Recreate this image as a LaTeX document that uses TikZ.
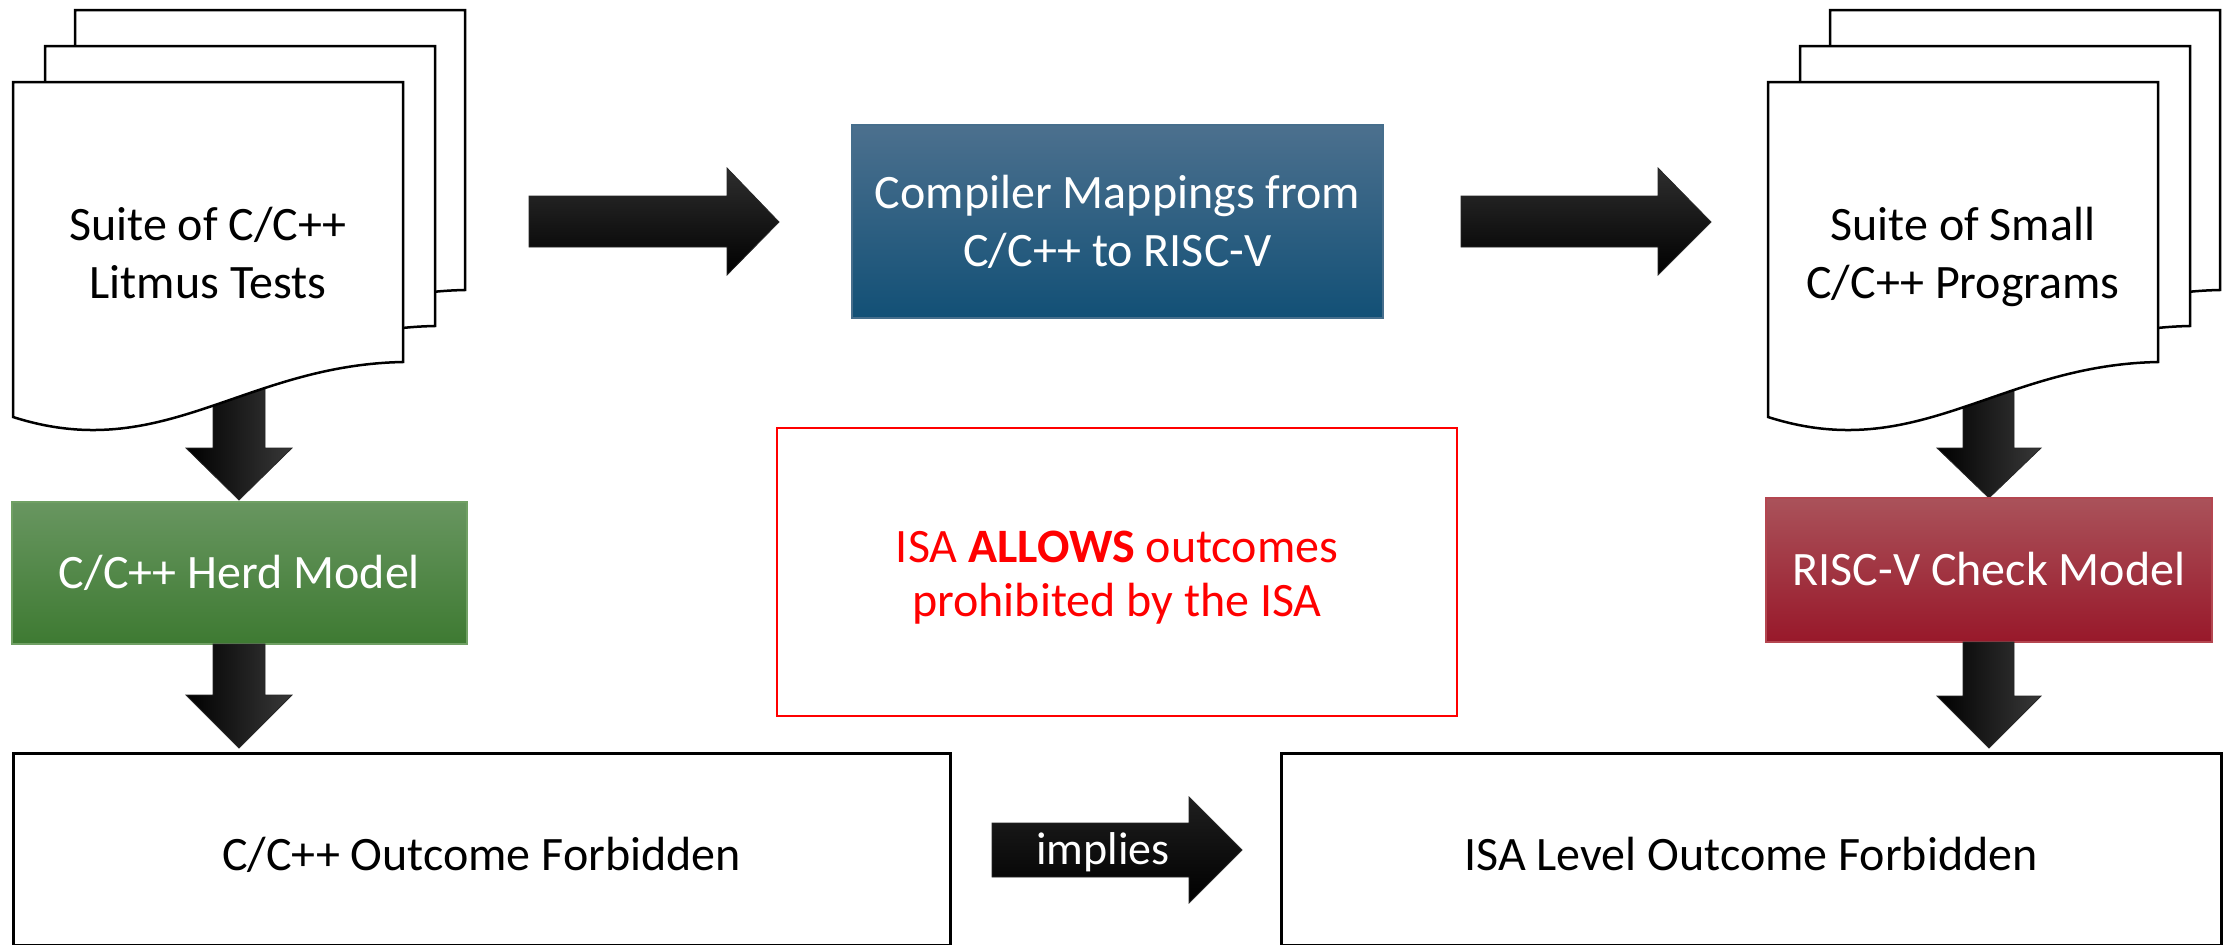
\documentclass[tikz,border=0pt]{standalone}
\usepackage{fontspec}
\setmainfont{Carlito}
\definecolor{bluetop}{RGB}{76,112,142}
\definecolor{bluebot}{RGB}{18,80,118}
\definecolor{blueedge}{RGB}{70,110,140}
\definecolor{greentop}{RGB}{104,150,96}
\definecolor{greenbot}{RGB}{62,122,50}
\definecolor{greenedge}{RGB}{112,160,100}
\definecolor{redtop}{RGB}{170,82,90}
\definecolor{redbot}{RGB}{152,24,42}
\definecolor{rededge}{RGB}{180,70,80}
\definecolor{alertred}{RGB}{255,0,0}
\newcommand\docsheet[2]{%
  \begin{scope}[shift={(#1,#2)}]
    \draw[docline] (0,0) -- (390,0) -- (390,280)
      .. controls (230,283) and (150,383) .. (0,335) -- cycle;
  \end{scope}}
\tikzset{
  docline/.style={draw=black, line width=2.5pt, fill=white, line join=miter},
  bigfont/.style={font=\fontsize{48}{58}\selectfont},
  onetext/.style={text height=31, text depth=0},
  colbox/.style={rectangle, inner sep=0pt, text=white, line width=1.5pt, bigfont, onetext, align=center},
  bluebox/.style={colbox, draw=blueedge, top color=bluetop, bottom color=bluebot, text height=, text depth=},
  greenbox/.style={colbox, draw=greenedge, top color=greentop, bottom color=greenbot},
  redbox/.style={colbox, draw=rededge, top color=redtop, bottom color=redbot},
  outbox/.style={rectangle, draw=black, line width=3pt, fill=white, inner sep=0pt, bigfont, text height=43, text depth=0},
  alertbox/.style={rectangle, draw=alertred, line width=2.5pt, inner sep=0pt, text=alertred, align=center, font=\fontsize{48}{54}\selectfont},
  doctext/.style={inner sep=0pt, align=center, bigfont},
  harrow/.style={draw=black!85, line width=0.8pt, top color=black!82, bottom color=black},
  varrow/.style={draw=black!85, line width=0.8pt, left color=black, right color=black!78},
  iarrow/.style={draw=black!85, line width=0.8pt, top color=black!88, bottom color=black},
}
\begin{document}
\begin{tikzpicture}[x=1pt,y=-1pt]
\useasboundingbox (0,0) rectangle (2233,945);
\fill[white] (0,0) rectangle (2233,945);

% down arrows behind documents
\draw[varrow] (213,370) -- (213,448) -- (186,448) -- (239,500) -- (292,448) -- (265,448) -- (265,370) -- cycle;
\draw[varrow] (1963,370) -- (1963,448) -- (1937,448) -- (1989,498) -- (2041,448) -- (2014,448) -- (2014,370) -- cycle;

% document stacks
\docsheet{75}{10}
\docsheet{45}{46}
\docsheet{13}{82}
\docsheet{1830}{10}
\docsheet{1800}{46}
\docsheet{1768}{82}
\node[doctext] (suiteL) at (208,253) {Suite of C/C++\\Litmus Tests};
\node[doctext] (suiteR) at (1963,257) {Suite of Small\\C/C++ Programs};

% compiler mappings
\node[bluebox, minimum width=531, minimum height=193] (map) at (1117.5,221.5) {Compiler Mappings from\\C/C++ to RISC-V};

% top arrows
\draw[harrow] (529,196) -- (727,196) -- (727,168) -- (779,222) -- (727,275) -- (727,247) -- (529,247) -- cycle;
\draw[harrow] (1461,196) -- (1658,196) -- (1658,168) -- (1711,222) -- (1658,275) -- (1658,247) -- (1461,247) -- cycle;

% models
\node[greenbox, minimum width=455, minimum height=142] (herd) at (239.5,573) {C/C++ Herd Model};
\node[redbox, minimum width=446, minimum height=144] (check) at (1989,570) {RISC-V Check Model};

% alert box
\node[alertbox, minimum width=680, minimum height=288] (alert) at (1117,572) {};
\node[inner sep=0pt, text=alertred, align=center, font=\fontsize{48}{54}\selectfont] (alerttext) at (1117,578) {ISA \textbf{ALLOWS} outcomes\\prohibited by the ISA};

% lower down arrows
\draw[varrow] (213,644) -- (213,695) -- (186,695) -- (239,748) -- (292,695) -- (265,695) -- (265,644) -- cycle;
\draw[varrow] (1963,642) -- (1963,696) -- (1937,696) -- (1989,748) -- (2041,696) -- (2014,696) -- (2014,642) -- cycle;

% outcome boxes
\node[outbox, minimum width=937, minimum height=192] (cout) at (481.5,849) {C/C++ Outcome Forbidden};
\node[outbox, minimum width=940, minimum height=192] (isaout) at (1751,849) {ISA Level Outcome Forbidden};

% implies arrow
\draw[iarrow] (992,823) -- (1189,823) -- (1189,797) -- (1242,850) -- (1189,903) -- (1189,877) -- (992,877) -- cycle;
\node[inner sep=0pt, text=white, font=\fontsize{46}{54}\selectfont, text height=34, text depth=10] (impl) at (1103,852) {implies};
\end{tikzpicture}
\end{document}
